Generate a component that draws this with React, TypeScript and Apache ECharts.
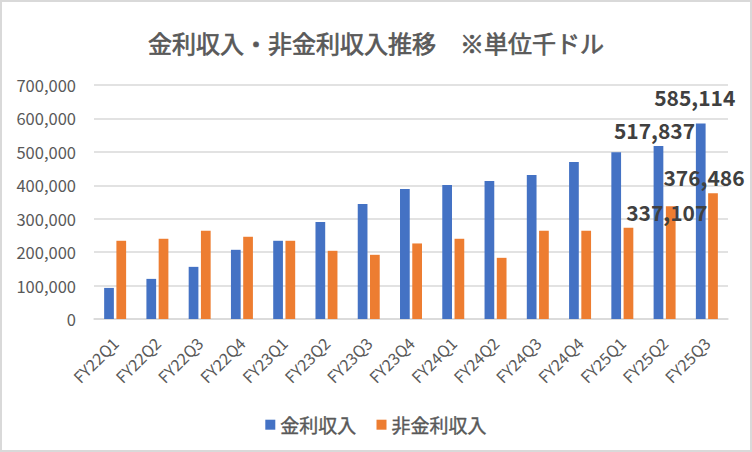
import React, { useEffect, useRef } from "react";
import * as echarts from "echarts";

const categories = [
  "FY22Q1", "FY22Q2", "FY22Q3", "FY22Q4",
  "FY23Q1", "FY23Q2", "FY23Q3", "FY23Q4",
  "FY24Q1", "FY24Q2", "FY24Q3", "FY24Q4",
  "FY25Q1", "FY25Q2", "FY25Q3",
];
const interestIncome = [
  93000, 120000, 156000, 207000, 234000, 290000, 344000, 389000,
  401000, 413000, 431000, 470000, 499000, 517837, 585114,
];
const nonInterestIncome = [
  234000, 240000, 264000, 246000, 234000, 204000, 192000, 226000,
  240000, 183000, 264000, 264000, 273000, 337107, 376486,
];
const seriesNames = ["金利収入", "非金利収入"];
const titleText = "金利収入・非金利収入推移　※単位千ドル";
// indices of points that carry a value label, and their label offsets
const interestLabelOffsets: Record<number, [number, number]> = { 13: [-4, 0], 14: [-6, -11] };
const nonInterestLabelOffsets: Record<number, [number, number]> = { 13: [-4, 21], 14: [-9, -1] };

const fmt = (v: number) => v.toLocaleString("en-US");
const JP = "'Noto Sans CJK JP', 'Noto Sans', sans-serif";

function buildData(values: number[], offsets: Record<number, [number, number]>) {
  return values.map((v, i) =>
    offsets[i]
      ? {
          value: v,
          label: {
            show: true,
            position: "top",
            distance: 5,
            offset: offsets[i],
            formatter: (p: any) => fmt(p.value),
            fontSize: 21,
            fontWeight: "bold",
            color: "#404040",
            fontFamily: JP,
          },
        }
      : v
  );
}

export default function App() {
  const ref = useRef<HTMLDivElement>(null);
  useEffect(() => {
    document.body.style.margin = "0";
    if (!ref.current) return;
    const chart = echarts.init(ref.current, undefined, { renderer: "svg" });
    chart.setOption({
      animation: false,
      backgroundColor: "#ffffff",
      color: ["#4472C4", "#ED7D31"],
      title: {
        text: titleText,
        left: "center",
        top: 25,
        textStyle: {
          fontSize: 24,
          fontWeight: "normal",
          color: "#595959",
          fontFamily: JP,
          textBorderColor: "#595959",
          textBorderWidth: 0.7,
        },
      },
      legend: {
        data: seriesNames,
        left: "center",
        top: 410,
        itemWidth: 10,
        itemHeight: 10,
        itemGap: 20,
        icon: "rect",
        textStyle: {
          fontSize: 19,
          color: "#595959",
          fontFamily: JP,
          textBorderColor: "#595959",
          textBorderWidth: 0.4,
        },
      },
      grid: { left: 94, right: 24, top: 85, bottom: 133, containLabel: false },
      xAxis: {
        type: "category",
        data: categories,
        axisTick: { show: false },
        axisLine: { lineStyle: { color: "#d9d9d9", width: 1.5 } },
        axisLabel: {
          interval: 0,
          rotate: 45,
          margin: 21,
          fontSize: 16,
          color: "#595959",
          fontFamily: JP,
        },
      },
      yAxis: {
        type: "value",
        min: 0,
        max: 700000,
        interval: 100000,
        axisLine: { show: false },
        axisTick: { show: false },
        splitLine: { lineStyle: { color: "#d9d9d9", width: 1.5 } },
        axisLabel: {
          margin: 18,
          fontSize: 16.5,
          color: "#595959",
          fontFamily: JP,
          formatter: (v: number) => fmt(v),
        },
      },
      series: [
        {
          name: seriesNames[0],
          type: "bar",
          data: buildData(interestIncome, interestLabelOffsets),
          barCategoryGap: "48%",
          barGap: "26%",
        },
        {
          name: seriesNames[1],
          type: "bar",
          data: buildData(nonInterestIncome, nonInterestLabelOffsets),
          barCategoryGap: "48%",
          barGap: "26%",
        },
      ],
      graphic: [
        {
          type: "rect",
          shape: { x: 1, y: 1, width: 750, height: 450 },
          style: { fill: "none", stroke: "#d9d9d9", lineWidth: 2 },
          silent: true,
          z: 100,
        },
      ],
    });
    return () => chart.dispose();
  }, []);
  return <div ref={ref} style={{ width: 752, height: 452 }} />;
}
